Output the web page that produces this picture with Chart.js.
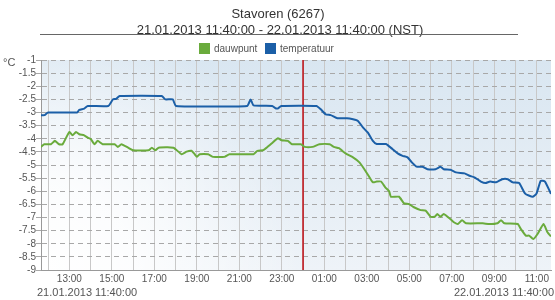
<!DOCTYPE html>
<html>
<head>
<meta charset="utf-8">
<script src="https://cdn.jsdelivr.net/npm/chart.js@4/dist/chart.umd.min.js"></script>
<style>
  html, body { margin: 0; padding: 0; background: #fff; }
  #wrap { width: 555px; height: 300px; }
</style>
</head>
<body>
<div id="wrap"><canvas id="chart" width="555" height="300"></canvas></div>
<script>
'use strict';

// Stavoren (6267), 21.01.2013 11:40 - 22.01.2013 11:40
var stationTitle = 'Stavoren (6267)';
var periodTitle = '21.01.2013 11:40:00 - 22.01.2013 11:40:00 (NST)';
var startLabel = '21.01.2013 11:40:00';
var endLabel = '22.01.2013 11:40:00';
var seriesNames = ['dauwpunt', 'temperatuur'];
var unitLabel = '\u00b0C';
var midnight = '00:00';

var gridHours = ['12:00', '13:00', '14:00', '15:00', '16:00', '17:00', '18:00', '19:00',
  '20:00', '21:00', '22:00', '23:00', '00:00', '01:00', '02:00', '03:00', '04:00',
  '05:00', '06:00', '07:00', '08:00', '09:00', '10:00', '11:00'];

var tempTimes = ['11:40', '11:50', '12:00', '13:22', '13:28', '13:42', '13:52', '14:50',
  '15:03', '15:12', '15:22', '17:21', '17:31', '17:52', '18:01', '21:22', '21:32', '21:40',
  '22:33', '22:42', '22:50', '22:58', '00:38', '00:50', '01:04', '01:18', '01:37', '02:04',
  '02:21', '02:35', '02:49', '03:03', '03:17', '03:28', '03:54', '04:13', '04:27', '04:41',
  '04:55', '05:07', '05:20', '05:37', '05:51', '06:14', '06:28', '06:37', '06:56', '07:12',
  '07:36', '07:50', '08:04', '08:22', '08:35', '08:48', '09:05', '09:22', '09:38', '09:52',
  '10:10', '10:27', '10:48', '10:59', '11:11', '11:23', '11:40'];
var tempValues = [-3.1, -3.1, -3.0, -3.0, -2.9, -2.85, -2.75, -2.75,
  -2.5, -2.48, -2.37, -2.37, -2.5, -2.5, -2.75, -2.75, -2.5, -2.73,
  -2.75, -2.84, -2.84, -2.75, -2.75, -2.88, -3.07, -3.1, -3.22, -3.22,
  -3.26, -3.32, -3.57, -3.77, -4.08, -4.2, -4.2, -4.4, -4.56, -4.65,
  -4.71, -4.9, -5.06, -5.07, -5.16, -5.16, -5.07, -5.16, -5.18, -5.28,
  -5.32, -5.41, -5.47, -5.63, -5.69, -5.63, -5.66, -5.54, -5.54, -5.66,
  -5.69, -6.09, -6.21, -6.09, -5.6, -5.63, -6.1];

var dewTimes = ['11:40', '11:49', '12:08', '12:19', '12:31', '12:41', '13:00', '13:09',
  '13:19', '13:28', '13:42', '13:52', '14:01', '14:11', '14:20', '14:34', '15:08', '15:17',
  '15:27', '15:46', '16:00', '16:44', '16:53', '17:03', '17:12', '17:54', '18:17', '18:31',
  '18:45', '18:54', '19:00', '19:08', '19:32', '19:46', '20:18', '20:32', '21:40', '21:51',
  '22:07', '22:17', '22:31', '22:49', '22:59', '23:17', '23:29', '23:54', '00:04', '00:27',
  '00:46', '01:15', '01:27', '01:41', '02:00', '02:21', '02:39', '02:53', '03:03', '03:17',
  '03:28', '03:40', '03:52', '04:03', '04:08', '04:31', '04:45', '04:59', '05:13', '05:32',
  '05:46', '06:00', '06:12', '06:19', '06:28', '06:37', '06:56', '07:07', '07:17', '07:29',
  '07:40', '08:27', '08:46', '09:09', '09:19', '09:28', '10:06', '10:15', '10:29', '10:38',
  '10:50', '11:02', '11:19', '11:30', '11:40'];
var dewValues = [-4.31, -4.21, -4.21, -4.08, -4.21, -4.21, -3.74, -3.87,
  -3.74, -3.83, -3.87, -3.96, -4.02, -4.21, -4.08, -4.21, -4.21, -4.31,
  -4.21, -4.34, -4.44, -4.44, -4.34, -4.44, -4.34, -4.34, -4.59, -4.49,
  -4.46, -4.59, -4.69, -4.59, -4.59, -4.69, -4.69, -4.59, -4.59, -4.46,
  -4.44, -4.34, -4.18, -3.98, -4.06, -4.08, -4.21, -4.21, -4.31, -4.31,
  -4.21, -4.21, -4.31, -4.36, -4.56, -4.71, -4.9, -5.16, -5.37, -5.66,
  -5.63, -5.63, -5.85, -6.0, -6.21, -6.21, -6.46, -6.49, -6.61, -6.72,
  -6.74, -6.97, -6.97, -6.87, -6.97, -6.87, -7.06, -7.19, -7.25, -7.1,
  -7.22, -7.22, -7.25, -7.22, -7.1, -7.22, -7.25, -7.44, -7.69, -7.69,
  -7.82, -7.63, -7.25, -7.56, -7.72];

var yMin = -9, yMax = -1, yStep = 0.5;

// hours since 21.01 11:40; anything before 11:40 belongs to the next day
var toHours = function (t, i) {
  var parts = t.split(':');
  var v = parseInt(parts[0], 10) + parseInt(parts[1], 10) / 60 - (11 + 40 / 60);
  if (v < 0 || (v === 0 && i > 0)) {
    v += 24;
  }
  return v;
};

var toPoints = function (times, values) {
  return times.map(function (t, i) {
    return { x: toHours(t, i), y: values[i] };
  });
};

var green = '#6aab3c';
var blue = '#1b5fa7';
var textColor = '#555';

var backgroundPlugin = {
  id: 'plotBackground',
  beforeDraw: function (chart) {
    var ctx = chart.ctx;
    var a = chart.chartArea;
    var w = a.right - a.left, h = a.bottom - a.top;
    ctx.save();
    var grad = ctx.createLinearGradient(0, a.top, 0, a.bottom);
    grad.addColorStop(0, '#d9e6f1');
    grad.addColorStop(1, '#eef3f8');
    ctx.fillStyle = grad;
    ctx.fillRect(a.left, a.top, w, h);
    // white glow from the lower left corner
    var glow = ctx.createRadialGradient(a.left, a.bottom, 0, a.left, a.bottom, 260);
    glow.addColorStop(0, 'rgba(255,255,255,1)');
    glow.addColorStop(0.35, 'rgba(255,255,255,0.85)');
    glow.addColorStop(1, 'rgba(255,255,255,0)');
    ctx.fillStyle = glow;
    ctx.fillRect(a.left, a.top, w, h);
    ctx.restore();
  }
};

var labelsPlugin = {
  id: 'extraLabels',
  afterDraw: function (chart) {
    var ctx = chart.ctx;
    ctx.save();

    // titles
    ctx.fillStyle = '#333';
    ctx.font = '13px "Liberation Sans", Arial, sans-serif';
    ctx.textAlign = 'center';
    ctx.textBaseline = 'alphabetic';
    ctx.fillText(stationTitle, 278, 18);
    ctx.fillText(periodTitle, 280, 34);

    ctx.strokeStyle = '#666';
    ctx.lineWidth = 1;
    ctx.beginPath();
    ctx.moveTo(40, 34.5);
    ctx.lineTo(518, 34.5);
    ctx.stroke();

    // legend
    ctx.font = '10px "Liberation Sans", Arial, sans-serif';
    ctx.textAlign = 'left';
    ctx.textBaseline = 'middle';
    ctx.fillStyle = green;
    ctx.fillRect(199, 43, 11, 11);
    ctx.fillStyle = textColor;
    ctx.fillText(seriesNames[0], 214, 49);
    ctx.fillStyle = blue;
    ctx.fillRect(265, 43, 11, 11);
    ctx.fillStyle = textColor;
    ctx.fillText(seriesNames[1], 280, 49);

    // unit
    ctx.font = '11px "Liberation Sans", Arial, sans-serif';
    ctx.fillText(unitLabel, 3, 63);

    // start / end dates under the axis
    ctx.fillText(startLabel, 37, 293);
    ctx.textAlign = 'right';
    ctx.fillText(endLabel, 554, 293);

    ctx.restore();
  }
};

var midnightX = toHours(midnight, 0);

var ctx = document.getElementById('chart').getContext('2d');
var chart = new Chart(ctx, {
  type: 'line',
  data: {
    datasets: [
      {
        label: 'midnight',
        data: [{ x: midnightX, y: yMax }, { x: midnightX, y: yMin }],
        borderColor: '#c0272d',
        borderWidth: 1,
        pointRadius: 0,
        order: 3
      },
      {
        label: seriesNames[0],
        data: toPoints(dewTimes, dewValues),
        borderColor: green,
        borderWidth: 2,
        pointRadius: 0,
        tension: 0.15,
        order: 2
      },
      {
        label: seriesNames[1],
        data: toPoints(tempTimes, tempValues),
        borderColor: blue,
        borderWidth: 2,
        pointRadius: 0,
        tension: 0.15,
        order: 1
      }
    ]
  },
  options: {
    responsive: false,
    animation: false,
    layout: { padding: { top: 60, left: 0, right: 4, bottom: 0 } },
    plugins: {
      legend: { display: false },
      title: { display: false },
      tooltip: { enabled: false }
    },
    scales: {
      x: {
        type: 'linear',
        min: 0,
        max: 24,
        afterFit: function (scale) { scale.height = 30; },
        afterBuildTicks: function (scale) {
          scale.ticks = gridHours.map(function (h, i) {
            return { value: toHours(h, i) };
          });
        },
        ticks: {
          autoSkip: false,
          maxRotation: 0,
          padding: 3,
          color: textColor,
          font: { size: 10, family: '"Liberation Sans", Arial, sans-serif' },
          callback: function (value, index) {
            return index % 2 === 1 ? gridHours[index] : '';
          }
        },
        grid: { color: '#c8c8c8', drawTicks: false },
        border: { color: '#999' }
      },
      y: {
        min: yMin,
        max: yMax,
        afterFit: function (scale) { scale.width = 41; },
        ticks: {
          stepSize: yStep,
          maxTicksLimit: 20,
          autoSkip: false,
          padding: 0,
          color: textColor,
          font: { size: 10, family: '"Liberation Sans", Arial, sans-serif' },
          callback: function (value) {
            return '' + Math.round(value * 10) / 10;
          }
        },
        grid: { color: '#a8a8a8', tickLength: 5 },
        border: { color: '#999', dash: [5, 4] }
      }
    }
  },
  plugins: [backgroundPlugin, labelsPlugin]
});
</script>
</body>
</html>
